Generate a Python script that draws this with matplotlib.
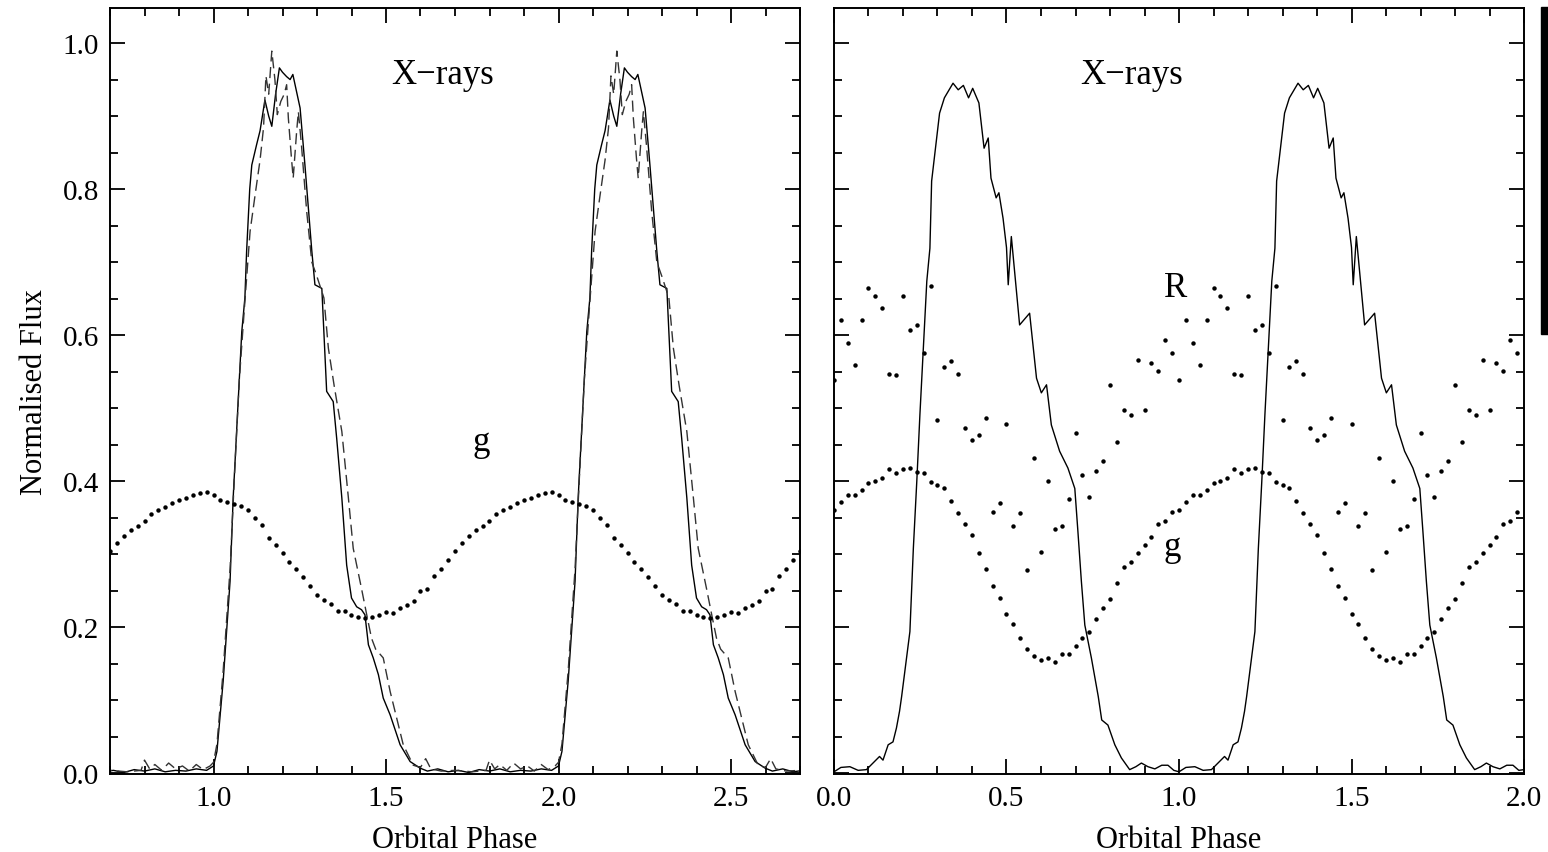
import numpy as np
import matplotlib
matplotlib.use("Agg")
import matplotlib.pyplot as plt
from matplotlib.patches import Rectangle

plt.rcParams['font.family'] = ['Liberation Serif', 'DejaVu Serif']

# ---- left panel: one orbital cycle (phase 0 = start of X-ray rise), plotted 3 times
xray_phase = [0.000, 0.010, 0.028, 0.048, 0.057, 0.067, 0.082, 0.091, 0.096, 0.105,
              0.111, 0.125, 0.135, 0.149, 0.160, 0.169, 0.180, 0.191, 0.200, 0.212,
              0.222, 0.230, 0.251, 0.265, 0.285, 0.294, 0.314, 0.318, 0.328, 0.347,
              0.357, 0.372, 0.386, 0.400, 0.415, 0.429, 0.439, 0.449, 0.463, 0.478,
              0.492, 0.512, 0.541, 0.570, 0.599, 0.620, 0.650, 0.680, 0.710, 0.740,
              0.770, 0.800, 0.830, 0.860, 0.890, 0.920, 0.950, 0.980]
xray_flux = [0.010, 0.030, 0.126, 0.263, 0.377, 0.468, 0.605, 0.651, 0.715, 0.800,
             0.833, 0.861, 0.880, 0.922, 0.900, 0.886, 0.930, 0.966, 0.960, 0.954,
             0.950, 0.957, 0.911, 0.833, 0.715, 0.669, 0.664, 0.623, 0.523, 0.509,
             0.459, 0.377, 0.285, 0.240, 0.228, 0.224, 0.217, 0.176, 0.158, 0.135,
             0.103, 0.080, 0.039, 0.016, 0.007, 0.003, 0.006, 0.002, 0.004, 0.001,
             0.005, 0.003, 0.006, 0.002, 0.004, 0.003, 0.006, 0.004]

model_phase = [0.000, 0.010, 0.028, 0.048, 0.060, 0.075, 0.090, 0.106, 0.120, 0.135,
               0.145, 0.152, 0.160, 0.169, 0.178, 0.185, 0.195, 0.205, 0.212, 0.217,
               0.226, 0.231, 0.241, 0.246, 0.255, 0.270, 0.285, 0.300, 0.320, 0.333,
               0.350, 0.372, 0.391, 0.405, 0.429, 0.445, 0.458, 0.470, 0.492, 0.512,
               0.536, 0.550, 0.579, 0.600, 0.615, 0.630, 0.660, 0.700, 0.750, 0.790,
               0.800, 0.815, 0.830, 0.850, 0.870, 0.890, 0.910, 0.930, 0.950, 0.970,
               0.990]
model_flux = [0.015, 0.040, 0.140, 0.280, 0.400, 0.540, 0.640, 0.742, 0.790, 0.840,
              0.884, 0.955, 0.930, 0.989, 0.950, 0.902, 0.920, 0.930, 0.943, 0.897,
              0.842, 0.815, 0.879, 0.906, 0.860, 0.770, 0.700, 0.680, 0.651, 0.582,
              0.530, 0.468, 0.377, 0.308, 0.253, 0.215, 0.185, 0.170, 0.158, 0.112,
              0.066, 0.039, 0.011, 0.008, 0.020, 0.006, 0.003, 0.004, 0.002, 0.004,
              0.018, 0.006, 0.012, 0.004, 0.014, 0.006, 0.010, 0.003, 0.012, 0.005,
              0.010]

g_left = [0.381, 0.374, 0.372, 0.369, 0.366, 0.361, 0.349, 0.340, 0.322, 0.313,
          0.301, 0.290, 0.280, 0.269, 0.256, 0.244, 0.237, 0.232, 0.222, 0.222,
          0.217, 0.214, 0.213, 0.214, 0.217, 0.221, 0.219, 0.226, 0.231, 0.236,
          0.249, 0.253, 0.270, 0.280, 0.292, 0.305, 0.315, 0.325, 0.333, 0.338,
          0.345, 0.355, 0.360, 0.364, 0.370, 0.374, 0.377, 0.381, 0.384, 0.385]

# ---- right panel: one cycle, plotted twice
xr_phase = [0.000, 0.020, 0.046, 0.070, 0.094, 0.113, 0.132, 0.142, 0.157, 0.171,
            0.181, 0.190, 0.196, 0.220, 0.230, 0.240, 0.249, 0.259, 0.269, 0.278,
            0.283, 0.295, 0.306, 0.320, 0.345, 0.360, 0.375, 0.390, 0.402, 0.420,
            0.435, 0.447, 0.455, 0.470, 0.478, 0.490, 0.500, 0.505, 0.514, 0.538,
            0.567, 0.587, 0.601, 0.616, 0.630, 0.654, 0.678, 0.698, 0.707, 0.717,
            0.727, 0.746, 0.766, 0.776, 0.794, 0.814, 0.833, 0.857, 0.875, 0.891,
            0.910, 0.930, 0.950, 0.968, 0.985]
xr_flux = [0.002, 0.008, 0.009, 0.004, 0.005, 0.014, 0.023, 0.018, 0.039, 0.043,
           0.062, 0.085, 0.105, 0.194, 0.308, 0.400, 0.491, 0.582, 0.674, 0.719,
           0.811, 0.860, 0.904, 0.925, 0.945, 0.936, 0.942, 0.925, 0.938, 0.918,
           0.856, 0.870, 0.815, 0.788, 0.795, 0.760, 0.720, 0.669, 0.735, 0.614,
           0.630, 0.541, 0.521, 0.532, 0.477, 0.441, 0.418, 0.390, 0.331, 0.263,
           0.203, 0.158, 0.105, 0.073, 0.066, 0.039, 0.021, 0.005, 0.009, 0.014,
           0.009, 0.006, 0.011, 0.011, 0.004]

R_right = [0.539, 0.621, 0.589, 0.559, 0.621, 0.665, 0.654, 0.637, 0.547, 0.545,
           0.653, 0.607, 0.614, 0.576, 0.667, 0.484, 0.556, 0.565, 0.547, 0.473,
           0.457, 0.463, 0.487, 0.358, 0.370, 0.478, 0.338, 0.356, 0.278, 0.432,
           0.303, 0.400, 0.334, 0.338, 0.376, 0.466, 0.408, 0.379, 0.414, 0.427,
           0.532, 0.454, 0.498, 0.491, 0.566, 0.498, 0.562, 0.551, 0.594, 0.575]

g_right = [0.361, 0.371, 0.381, 0.381, 0.388, 0.397, 0.400, 0.405, 0.416, 0.411,
           0.417, 0.418, 0.413, 0.411, 0.399, 0.395, 0.391, 0.373, 0.356, 0.342,
           0.326, 0.301, 0.280, 0.257, 0.240, 0.218, 0.204, 0.185, 0.170, 0.160,
           0.155, 0.158, 0.153, 0.163, 0.164, 0.174, 0.185, 0.194, 0.211, 0.226,
           0.239, 0.260, 0.282, 0.289, 0.301, 0.313, 0.324, 0.342, 0.345, 0.358]


def tile(phase, vals, starts):
    # the folded light curve is drawn once per orbital cycle shown
    x = np.concatenate([np.asarray(phase) + s for s in starts])
    y = np.concatenate([np.asarray(vals) for s in starts])
    return x, y


opt_phase = np.arange(50) * 0.02

fig = plt.figure(figsize=(15.48, 8.53), dpi=100)
ax1 = fig.add_axes([110 / 1548, 1 - 775 / 853, 690 / 1548, 766 / 853])
ax2 = fig.add_axes([834 / 1548, 1 - 775 / 853, 690 / 1548, 766 / 853])

# left panel
x, y = tile(xray_phase, xray_flux, [0, 1, 2])
ax1.plot(x, y, color='k', lw=1.0)
x, y = tile(model_phase, model_flux, [0, 1, 2])
ax1.plot(x, y, color='0.2', lw=1.0, ls=(0, (8, 4)))
x, y = tile(opt_phase, g_left, [0, 1, 2])
ax1.plot(x, y, 'o', color='k', ms=3.2, mew=0)

# right panel
x, y = tile(xr_phase, xr_flux, [0, 1])
ax2.plot(np.append(x, 2.0), np.append(y, 0.005), color='k', lw=1.0)
x, y = tile(opt_phase, R_right, [0, 1])
ax2.plot(x, y, 'o', color='k', ms=3.2, mew=0)
x, y = tile(opt_phase, g_right, [0, 1])
ax2.plot(x, y, 'o', color='k', ms=3.2, mew=0)

for ax in (ax1, ax2):
    ax.set_ylim(-0.001, 1.048)
    ax.set_yticks(np.arange(0, 1.01, 0.2))
    ax.set_yticks(np.arange(0, 1.05, 0.05), minor=True)
    ax.xaxis.set_major_locator(plt.MultipleLocator(0.5))
    ax.xaxis.set_minor_locator(plt.MultipleLocator(0.1))
    ax.xaxis.set_major_formatter(plt.FormatStrFormatter('%.1f'))
    ax.tick_params(which='both', direction='in', top=True, right=True, width=1.3,
                   labelsize=21, pad=8)
    ax.tick_params(which='major', length=11)
    ax.tick_params(which='minor', length=6)
    for s in ax.spines.values():
        s.set_linewidth(1.4)
    ax.set_xlabel('Orbital Phase', fontsize=22, labelpad=10)

ax1.set_xlim(0.7, 2.7)
ax1.yaxis.set_major_formatter(plt.FormatStrFormatter('%.1f'))
ax1.set_ylabel('Normalised Flux', fontsize=22, labelpad=10)
ax2.set_xlim(0.0, 2.0)
ax2.tick_params(labelleft=False)

ax1.text(1.665, 0.957, 'X\u2212rays', fontsize=25, ha='center', va='center')
ax1.text(1.775, 0.455, 'g', fontsize=25, ha='center', va='center')
ax2.text(0.862, 0.957, 'X\u2212rays', fontsize=25, ha='center', va='center')
ax2.text(0.99, 0.665, 'R', fontsize=25, ha='center', va='center')
ax2.text(0.98, 0.31, 'g', fontsize=25, ha='center', va='center')

# black strip along the right edge of the scan
fig.patches.append(Rectangle((1541 / 1548, 1 - 335 / 853), 7 / 1548, 327 / 853,
                             transform=fig.transFigure, color='k'))

fig.savefig('out.png', dpi=100)
